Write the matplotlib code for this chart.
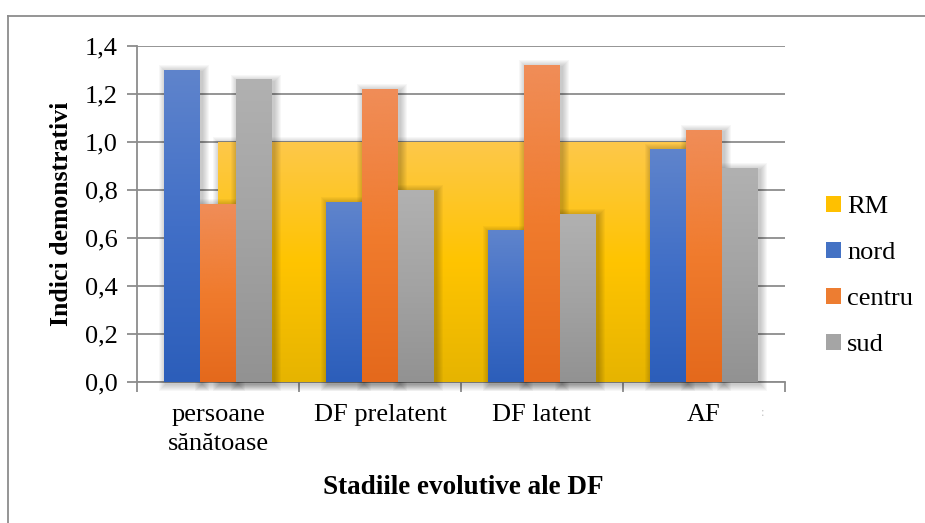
import numpy as np
import matplotlib
matplotlib.use("Agg")
import matplotlib.pyplot as plt
from matplotlib.colors import LinearSegmentedColormap
from matplotlib.patches import Rectangle, Patch
from matplotlib.lines import Line2D

plt.rcParams["font.family"] = ["Liberation Serif", "DejaVu Serif"]

# ---- data ----
categories = ["persoane\nsănătoase", "DF prelatent", "DF latent", "AF"]
rm = [1.0, 1.0, 1.0, 1.0]
nord = [1.30, 0.75, 0.63, 0.97]
centru = [0.74, 1.22, 1.32, 1.05]
sud = [1.26, 0.80, 0.70, 0.89]
yticks = [0.0, 0.2, 0.4, 0.6, 0.8, 1.0, 1.2, 1.4]

# gradient stops, bottom -> top
GRAD = {
    "RM": ["#e6b400", "#ffc400", "#fdc84a"],
    "nord": ["#2c5eba", "#416fc7", "#5f84cc"],
    "centru": ["#e4691c", "#f07b2d", "#f08d58"],
    "sud": ["#929292", "#a3a3a3", "#b1b1b1"],
}
SOLID = {"RM": "#ffc000", "nord": "#4472c4", "centru": "#ed7d31", "sud": "#a5a5a5"}
GRID = "#8c8c8c"
SERIF = "Liberation Serif"

W, H = 925, 523
fig = plt.figure(figsize=(W / 100, H / 100), dpi=100)
ax = fig.add_axes([137 / W, 1 - 382 / H, (785 - 137) / W, (382 - 46) / H])
ax.set_xlim(-0.5, 3.5)
ax.set_ylim(0, 1.4)

# data units per pixel
px_x = 4.0 / (785 - 137)
px_y = 1.4 / (382 - 46)


def grad_fill(x0, x1, y0, y1, stops, z):
    cmap = LinearSegmentedColormap.from_list("g", stops)
    arr = np.linspace(1, 0, 256).reshape(-1, 1)
    ax.imshow(arr, cmap=cmap, extent=(x0, x1, y0, y1), aspect="auto",
              origin="upper", zorder=z, interpolation="bicubic")


def soft_shadow(x0, x1, y0, y1, z, layers=7, alpha=0.03):
    ox, oy = 2 * px_x, 2 * px_y
    for r in range(1, layers + 1):
        dx, dy = r * px_x, r * px_y
        ax.add_patch(Rectangle((x0 - dx + ox, y0 - dy - oy), (x1 - x0) + 2 * dx,
                               (y1 - y0) + 2 * dy, facecolor="black", lw=0,
                               alpha=alpha, zorder=z, clip_on=False))


x = np.arange(len(categories))

# RM drawn as an area between the category centres
soft_shadow(x[0], x[-1], 0, rm[0], 1.0)
grad_fill(x[0], x[-1], 0, rm[0], GRAD["RM"], 1.1)

bw = 0.222
for off, name, vals in [(-bw, "nord", nord), (0, "centru", centru), (bw, "sud", sud)]:
    for xi, v in zip(x, vals):
        x0 = xi + off - bw / 2
        x1 = xi + off + bw / 2
        soft_shadow(x0, x1, 0, v, 2.0)
        grad_fill(x0, x1, 0, v, GRAD[name], 3.0)

ax.set_xlim(-0.5, 3.5)
ax.set_ylim(0, 1.4)

# axes styling
ax.set_yticks(yticks)
ax.set_yticklabels([f"{t:.1f}".replace(".", ",") for t in yticks])
ax.yaxis.grid(True, color=GRID, lw=1.3)
ax.set_axisbelow(True)
for s in ["top", "right"]:
    ax.spines[s].set_visible(False)
for s in ["left", "bottom"]:
    ax.spines[s].set_color(GRID)
    ax.spines[s].set_linewidth(1.3)
    ax.spines[s].set_zorder(0.8)

ax.set_xticks(x)
ax.set_xticklabels(categories, linespacing=1.4)
ax.set_xticks(np.arange(-0.5, 3.6, 1.0), minor=True)
ax.tick_params(axis="x", which="major", length=0, pad=16, labelsize=19)
ax.tick_params(axis="x", which="minor", length=7, color=GRID, width=1.3)
ax.tick_params(axis="y", length=7, color=GRID, width=1.3, pad=7, labelsize=19)

ax.set_ylabel("Indici demonstrativi", fontsize=18.5, fontweight="bold", labelpad=8)
fig.text(463 / W, 1 - 487 / H, "Stadiile evolutive ale DF", fontsize=19.5,
         fontweight="bold", ha="center", va="center")

# legend
handles = [Patch(facecolor=SOLID[n], edgecolor="none") for n in ["RM", "nord", "centru", "sud"]]
fig.legend(handles, ["RM", "nord", "centru", "sud"], loc="center left",
           bbox_to_anchor=(826 / W, 1 - 276 / H), frameon=False,
           prop={"family": SERIF, "size": 19}, borderpad=0, borderaxespad=0,
           handlelength=0.55, handleheight=0.55, handletextpad=0.25,
           labelspacing=0.9)

# small stray mark near the last category
fig.text(763 / W, 1 - 413 / H, ":", fontsize=9, color="#c0c0c0",
         ha="center", va="center")

# outer frame (left and top edges)
fig.add_artist(Line2D([8 / W, 8 / W], [0, 1 - 16 / H], color=GRID, lw=1.3))
fig.add_artist(Line2D([8 / W, 1], [1 - 16 / H, 1 - 16 / H], color=GRID, lw=1.3))

fig.savefig("out.png", dpi=100, facecolor="white")
